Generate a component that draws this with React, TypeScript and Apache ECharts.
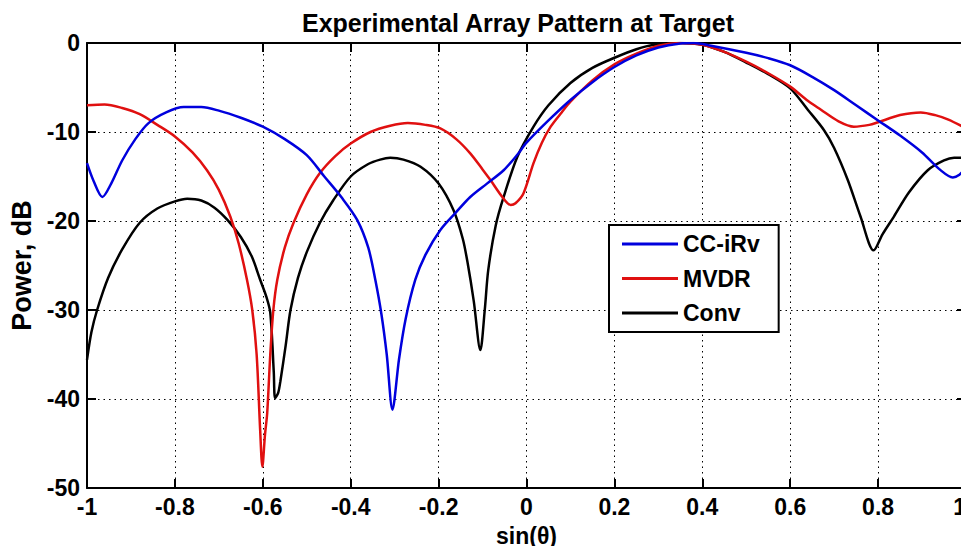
import React, { useEffect, useRef } from "react";
import * as echarts from "echarts";

const title = "Experimental Array Pattern at Target";
const xName = "sin(θ)";
const yName = "Power, dB";
const seriesNames = ["CC-iRv", "MVDR", "Conv"];
const seriesColors = ["#0000dd", "#e01010", "#000000"];

const ccirv: [number, number][] = [
  [-1, -13.5], [-0.985, -15.5], [-0.965, -17.3], [-0.945, -15.8], [-0.92, -13.2],
  [-0.89, -10.8], [-0.86, -9.0], [-0.82, -7.8], [-0.78, -7.2], [-0.74, -7.2],
  [-0.7, -7.6], [-0.65, -8.4], [-0.6, -9.4], [-0.55, -10.8], [-0.5, -12.6],
  [-0.46, -15.0], [-0.42, -17.4], [-0.385, -19.9], [-0.36, -23.0], [-0.344, -26.6],
  [-0.33, -30.5], [-0.318, -35], [-0.305, -41.2], [-0.29, -35.5], [-0.275, -31],
  [-0.253, -26.6], [-0.23, -23.8], [-0.196, -21], [-0.16, -19], [-0.128, -17.3],
  [-0.09, -15.8], [-0.052, -14.3], [-0.02, -12.5], [0, -11.2], [0.05, -8.7],
  [0.1, -6.4], [0.15, -4.4], [0.2, -2.7], [0.25, -1.4], [0.3, -0.5],
  [0.35, -0.05], [0.38, 0], [0.42, -0.3], [0.5, -1.1], [0.55, -1.7],
  [0.6, -2.5], [0.65, -3.8], [0.7, -5.3], [0.75, -7.0], [0.8, -8.7],
  [0.85, -10.4], [0.9, -12.3], [0.94, -14.2], [0.97, -15.1], [0.985, -14.8], [1, -14.0],
];

const mvdr: [number, number][] = [
  [-1, -7.0], [-0.96, -6.9], [-0.92, -7.3], [-0.88, -8.0], [-0.84, -9.2],
  [-0.8, -10.5], [-0.76, -12.3], [-0.727, -14.3], [-0.7, -16.5], [-0.674, -19.5],
  [-0.655, -22.5], [-0.636, -26.6], [-0.624, -30], [-0.614, -35], [-0.606, -43.5],
  [-0.601, -47.6], [-0.595, -44], [-0.59, -41.6], [-0.583, -35], [-0.576, -30],
  [-0.567, -26.6], [-0.55, -23], [-0.53, -20.2], [-0.5, -17], [-0.47, -14.6],
  [-0.435, -12.7], [-0.4, -11.3], [-0.355, -10], [-0.31, -9.3], [-0.27, -9.0],
  [-0.23, -9.2], [-0.196, -9.6], [-0.16, -10.8], [-0.128, -12.4], [-0.1, -14.2],
  [-0.082, -15.4], [-0.055, -17.3], [-0.036, -18.2], [-0.025, -18.0], [-0.007, -16.9],
  [0.016, -13.5], [0.035, -11.2], [0.055, -9.4], [0.08, -7.8], [0.1, -6.6],
  [0.15, -4.2], [0.2, -2.4], [0.25, -1.2], [0.3, -0.3], [0.35, 0],
  [0.4, -0.2], [0.45, -1.0], [0.5, -2.1], [0.55, -3.4], [0.6, -4.9],
  [0.64, -6.5], [0.67, -7.5], [0.71, -8.8], [0.745, -9.4], [0.78, -9.2],
  [0.8, -8.9], [0.85, -8.1], [0.897, -7.8], [0.93, -8.1], [0.96, -8.6], [1, -9.6],
];

const conv: [number, number][] = [
  [-1, -35.6], [-0.99, -32.5], [-0.977, -30], [-0.952, -26.4], [-0.92, -23.2],
  [-0.88, -20.2], [-0.84, -18.6], [-0.8, -17.8], [-0.772, -17.5], [-0.74, -17.7],
  [-0.71, -18.5], [-0.68, -19.9], [-0.65, -21.8], [-0.625, -24], [-0.606, -26.6],
  [-0.592, -28.5], [-0.583, -30.3], [-0.575, -37], [-0.572, -39.9], [-0.565, -39.3],
  [-0.56, -38], [-0.548, -34], [-0.537, -30], [-0.52, -26.4], [-0.5, -23.5],
  [-0.47, -20.2], [-0.44, -17.7], [-0.4, -15], [-0.36, -13.6], [-0.333, -13.1],
  [-0.31, -12.9], [-0.28, -13.1], [-0.241, -13.9], [-0.2, -15.8], [-0.166, -18.8],
  [-0.145, -22], [-0.134, -24.7], [-0.12, -29], [-0.105, -34.5], [-0.095, -30],
  [-0.087, -25.5], [-0.07, -20.5], [-0.052, -17.3], [-0.021, -12.8], [0.016, -9.4],
  [0.05, -7], [0.1, -4.5], [0.15, -2.8], [0.203, -1.6], [0.25, -0.7],
  [0.29, -0.2], [0.35, 0], [0.4, -0.2], [0.45, -1.0], [0.5, -2.2],
  [0.55, -3.5], [0.6, -5.1], [0.64, -7.5], [0.677, -9.8], [0.7, -11.8],
  [0.731, -15.4], [0.76, -19.5], [0.79, -23.3], [0.81, -21.5], [0.836, -19.5],
  [0.87, -16.8], [0.913, -14.3], [0.95, -13.2], [0.973, -12.9], [1, -12.9],
];

const xMin = -1, xMax = 1, xStep = 0.2;
const yMin = -50, yMax = 0, yStep = 10;

const FONT = "'Liberation Sans', Arial, sans-serif";

export default function App() {
  const ref = useRef<HTMLDivElement>(null);
  useEffect(() => {
    if (!ref.current) return;
    const chart = echarts.init(ref.current, undefined, { renderer: "svg" });
    const dotted = { color: "#000", width: 1, type: [1.5, 4] as number[] };
    const axisLine = { show: true, onZero: false, lineStyle: { color: "#000", width: 2 } };
    const tick = { show: true, inside: true, length: 9, lineStyle: { color: "#000", width: 2 } };
    const lbl = { color: "#000", fontFamily: FONT, fontWeight: "bold" as const, fontSize: 23 };
    chart.setOption({
      animation: false,
      backgroundColor: "#fff",
      title: {
        text: title,
        left: 513,
        textAlign: "center",
        top: 5,
        textStyle: { ...lbl, fontSize: 25 },
      },
      grid: { left: 87, right: 3, top: 43, bottom: 66, containLabel: false, outerBoundsMode: "none" },
      legend: {
        orient: "vertical",
        left: 609,
        top: 225,
        data: seriesNames,
        icon: "rect",
        itemWidth: 56,
        itemHeight: 3,
        itemGap: 10.5,
        padding: [7, 19, 7, 13],
        borderColor: "#000",
        borderWidth: 2,
        backgroundColor: "#fff",
        textStyle: { ...lbl, lineHeight: 24 },
      },
      xAxis: [
        {
          type: "value", min: xMin, max: xMax, interval: xStep,
          name: xName, nameLocation: "middle", nameGap: 36,
          nameTextStyle: { ...lbl },
          axisLine, axisTick: tick,
          axisLabel: {
            ...lbl, margin: 7, alignMaxLabel: "right",
            formatter: (v: number) => String(Math.round(v * 10) / 10),
          },
          splitLine: { show: true, lineStyle: dotted },
        },
        {
          type: "value", min: xMin, max: xMax, interval: xStep, position: "top",
          axisLine, axisTick: tick, axisLabel: { show: false }, splitLine: { show: false },
        },
      ],
      yAxis: [
        {
          type: "value", min: yMin, max: yMax, interval: yStep,
          name: yName, nameLocation: "middle", nameGap: 47,
          nameTextStyle: { ...lbl, fontSize: 27 },
          axisLine, axisTick: tick,
          axisLabel: { ...lbl, margin: 7 },
          splitLine: { show: true, lineStyle: dotted },
        },
        {
          type: "value", min: yMin, max: yMax, interval: yStep, position: "right",
          axisLine, axisTick: tick, axisLabel: { show: false }, splitLine: { show: false },
        },
      ],
      series: [ccirv, mvdr, conv].map((d, i) => ({
        name: seriesNames[i],
        type: "line",
        data: d,
        symbol: "none",
        smooth: 0.3,
        color: seriesColors[i],
        lineStyle: { color: seriesColors[i], width: 2.5 },
        z: 3 - i,
      })),
    });
    return () => chart.dispose();
  }, []);
  return <div ref={ref} style={{ width: 969, height: 554, margin: -8 }} />;
}
